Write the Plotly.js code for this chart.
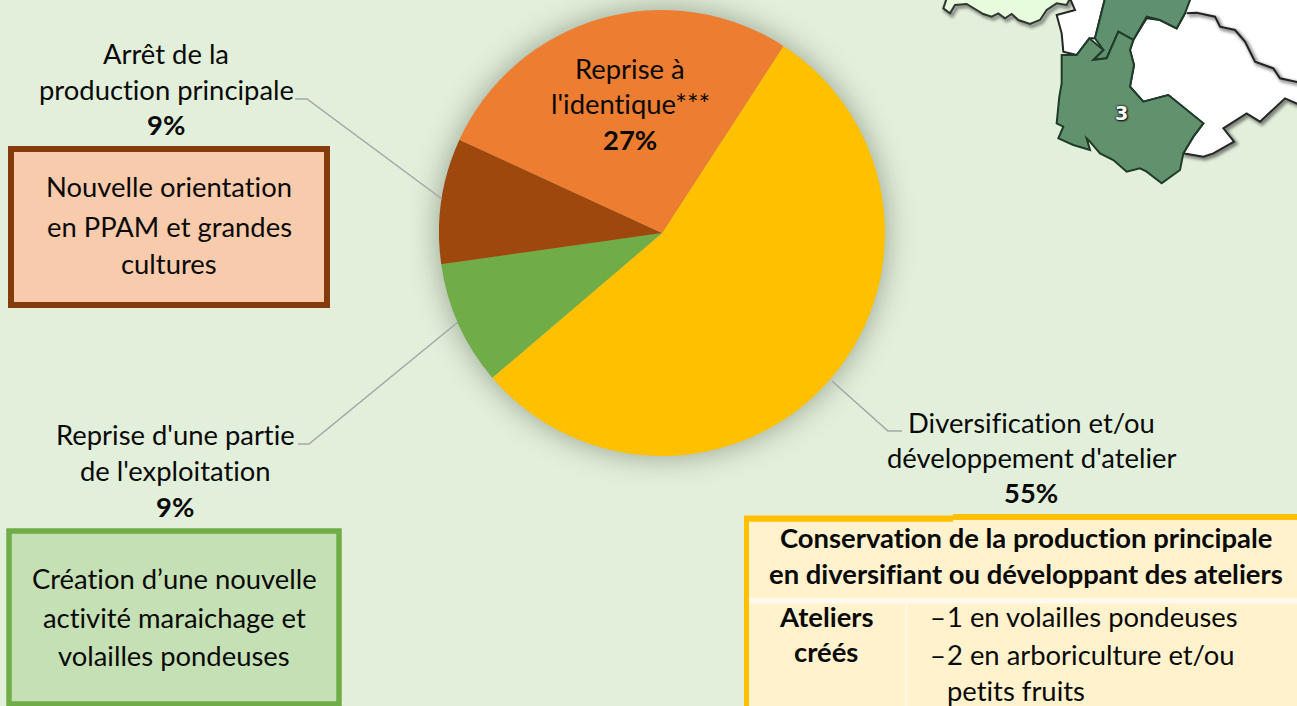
<!DOCTYPE html>
<html><head><meta charset="utf-8">
<script src="https://cdn.plot.ly/plotly-3.0.1.min.js"></script>
<style>html,body{margin:0;padding:0;background:#e2efda;overflow:hidden}#c{width:1297px;height:706px}
.pielayer{filter:drop-shadow(0 0 15px rgba(50,65,50,.45))}
svg text{font-variant-ligatures:none;font-feature-settings:"liga" 0,"clig" 0}
</style></head><body><div id="c"></div>
<script>
const categories=["Diversification et/ou développement d'atelier","Reprise d'une partie de l'exploitation","Arrêt de la production principale","Reprise à l'identique***"];
const values=[54.6,9,9.1,27.3];
const sliceColors=["#ffc000","#70ad47","#9e480e","#ed7d31"];
const W=1297,H=706,FONT="Lato, Carlito, sans-serif",FS=27.4;
const X=x=>x/W, Y=y=>1-y/H;

// one text line per row: [text, centre x, centre y, bold]
const textRows=[
 ["Arrêt de la",166,53,0],["production principale",166,89,0],["9%",166,124,1],
 ["Nouvelle orientation",169,187,0],["en PPAM et grandes",169,226,0],["cultures",169,264,0],
 ["Reprise à",630,68,0],["l'identique***",630,104,0],["27%",630,140,1],
 ["Reprise d'une partie",175,434,0],["de l'exploitation",175,470,0],["9%",175,506,1],
 ["Création d’une nouvelle",174,578,0],["activité maraichage et",174,617,0],["volailles pondeuses",174,655,0],
 ["Diversification et/ou",1031,422,0],["développement d'atelier",1031,457,0],["55%",1031,493,1],
 ["Conservation de la production principale",1026,537,1],["en diversifiant ou développant des ateliers",1026,573,1],
 ["Ateliers",826,616,1],["créés",826,651,1]
];
const leftRows=[["–",928,616],["1 en volailles pondeuses",945,616],["–",928,654],["2 en arboriculture et/ou",945,654],["petits fruits",945,690]];

const leaders=[[[295,99],[307,99],[442,199]],[[298,444],[309,444],[458,322]],[[832,381],[888,431],[902,431]]];

// decorative map fragment (zoomed crop coordinates /3 + 930)
const m=p=>p.map(([x,y])=>[930+x/3,y/3]);
const paleDept=m([[40,25],[60,40],[75,15],[110,12],[140,30],[160,42],[185,50],[205,40],[225,55],[245,42],[265,60],[300,72],[330,60],[350,30],[380,10],[410,15],[420,-5],[50,-5]]);
const whiteA=m([[420,-5],[435,30],[380,45],[395,100],[400,155],[440,165],[478,115],[495,115],[525,-5]]);
const whiteB=m([[770,-5],[765,40],[740,85],[690,60],[650,55],[610,120],[600,150],[612,195],[600,260],[640,305],[715,285],[820,370],[790,410],[760,460],[820,470],[850,460],[912,425],[880,385],[950,340],[990,365],[1065,295],[1110,315],[1110,-5]]);
const innerLine=m([[770,40],[800,38],[855,50],[870,80],[915,90],[945,125],[975,185],[1030,205],[1050,235],[1110,248]]);
const deptTop=m([[525,-5],[495,115],[520,150],[490,180],[530,175],[565,95],[610,120],[650,50],[690,60],[740,85],[765,40],[782,-5]]);
const dept3=m([[395,165],[440,165],[478,115],[520,150],[490,180],[530,175],[565,95],[610,120],[600,150],[612,195],[600,260],[640,305],[715,285],[820,370],[790,410],[760,460],[750,510],[695,550],[650,515],[630,505],[590,515],[550,480],[510,460],[480,425],[470,415],[480,450],[430,435],[385,415],[400,380],[380,370],[388,290],[395,250]]);

const path=(p,close)=>"M"+p.map(([x,y])=>X(x)+","+Y(y)).join("L")+(close?"Z":"");
const poly=(p,fill,lc,lw,close=true)=>({type:"path",xref:"paper",yref:"paper",path:path(p,close),fillcolor:fill,line:{color:lc,width:lw},layer:"below"});
const rect=(x0,y0,x1,y1,fill,lc,lw)=>({type:"rect",xref:"paper",yref:"paper",x0:X(x0),x1:X(x1),y0:Y(y0),y1:Y(y1),fillcolor:fill,line:{color:lc||"rgba(0,0,0,0)",width:lw||0},layer:"below"});
const shift=(p,d)=>p.map(([x,y])=>[x+d,y+d]);
const NONE="rgba(0,0,0,0)";

const shapes=[
 poly(shift(paleDept,2),NONE,"rgba(60,60,60,.55)",4),
 poly(paleDept,"#e6fcdc","#2f352f",2),
 poly(shift(whiteB,2),"rgba(90,90,90,.5)","rgba(60,60,60,.5)",4),
 poly(whiteA,"#ffffff","#262626",2),
 poly(whiteB,"#ffffff","#262626",2),
 poly(shift(innerLine,2),NONE,"rgba(60,60,60,.55)",4,false),
 poly(innerLine,NONE,"#222222",2,false),
 poly(deptTop,"#5f9070","#1f3a29",2),
 poly(dept3,"#62926d","#1f3a29",2),
 rect(11,149,327,305,"#f8cbad","#843c0c",6),
 rect(9,531,339,704,"#c5e0b4","#70ad47",5.5),
 rect(744,516,1300,710,"#fff2cc"),
 rect(744,515.5,953,521.7,"#ffc000"),
 rect(953,514,1300,520,"#ffc000"),
 rect(744,516,749,710,"#ffc000"),
 rect(749,598,1300,603.5,"#fffaed"),
 rect(905.5,603,907.5,710,"#fffaed"),
 ...leaders.map(l=>({type:"path",xref:"paper",yref:"paper",path:path(l,false),line:{color:"#a6a6a6",width:1.5},fillcolor:NONE,layer:"above"}))
];

const ann=(t,x,y,b,anchor)=>({xref:"paper",yref:"paper",x:X(x),y:Y(y),xanchor:anchor,yanchor:"middle",showarrow:false,
 text:b?"<b>"+t+"</b>":t,font:{family:FONT,size:FS,color:"#0a0a0a"}});
const annotations=[
 ...textRows.map(r=>ann(r[0],r[1],r[2],r[3],"center")),
 ...leftRows.map(r=>ann(r[0],r[1],r[2],0,"left")),
 {xref:"paper",yref:"paper",x:X(1121),y:Y(113),xanchor:"center",yanchor:"middle",showarrow:false,text:"<b>3</b>",
  font:{family:"DejaVu Sans, sans-serif",size:19,color:"#ffffff",shadow:"0 0 2px #111, 0 0 2px #111, 1px 1px 2px #111"}}
];

Plotly.newPlot("c",[{type:"pie",values:values,labels:categories,sort:false,direction:"clockwise",rotation:33,
 marker:{colors:sliceColors,line:{width:0}},textinfo:"none",hoverinfo:"label+percent",showlegend:false,
 domain:{x:[X(439),X(885)],y:[Y(456),Y(10)]}}],
 {width:W,height:H,margin:{l:0,r:0,t:0,b:0},paper_bgcolor:"#e2efda",plot_bgcolor:"#e2efda",showlegend:false,shapes,annotations},
 {displayModeBar:false,responsive:false}).then(()=>{
  // soften the three map drop shadows
  const paths=document.querySelectorAll(".layer-below .shapelayer path");
  [0,2,5].forEach(i=>{if(paths[i])paths[i].style.filter="blur(1.5px)";});
 });
</script></body></html>
